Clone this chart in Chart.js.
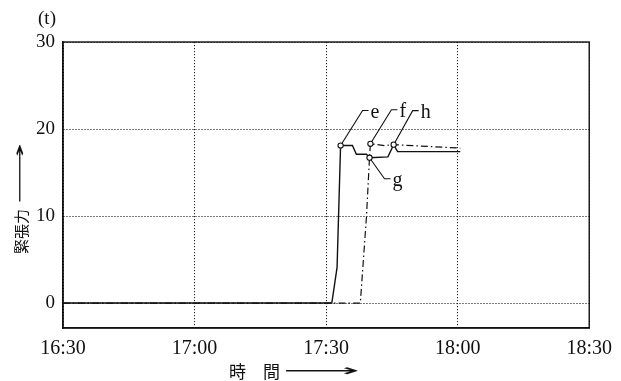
<!DOCTYPE html>
<html><head><meta charset="utf-8">
<script src="https://cdn.jsdelivr.net/npm/chart.js@4.4.1/dist/chart.umd.min.js"></script>
<style>html,body{margin:0;padding:0;background:#fff}#wrap{width:621px;height:381px}</style>
</head><body><div id="wrap"><canvas id="c" width="621" height="381"></canvas></div>
<script>
// x values: minutes after 16:30
const xTickLabels = ['16:30', '17:00', '17:30', '18:00', '18:30'];
const yTickValues = [0, 10, 20, 30];
const solidX = [0, 61.3, 62.5, 63.3, 66.0, 66.9, 69.2, 69.9, 74.1, 75.4, 76.3, 90.6];
const solidY = [0, 0, 4.1, 18.1, 18.1, 17.1, 17.1, 16.7, 16.8, 18.2, 17.4, 17.4];
const dashX = [0, 67.8, 69.2, 69.9, 70.1, 73.3, 75.4, 90.6];
const dashY = [0, 0, 9.9, 16.7, 18.3, 18.1, 18.2, 17.8];
const markerNames = ['e', 'f', 'g', 'h'];
const markerX = [63.3, 70.1, 69.9, 75.4];
const markerY = [18.1, 18.3, 16.7, 18.2];

const yTitle = '緊張力';
const xTitle = '時　間';
const unitLabel = '(t)';

// leader-line styling (pixel offsets from marker)
const leaderStyle = {
  e: {dx: 22, dy: -35, tail: 6, tx: 2, ty: 7},
  f: {dx: 21, dy: -34, tail: 6, tx: 2, ty: 7},
  g: {dx: 15, dy: 21, tail: 6, tx: 2, ty: 7},
  h: {dx: 19, dy: -34, tail: 6, tx: 2, ty: 7}
};

const pts = (xs, ys) => xs.map((x, i) => ({x: x, y: ys[i]}));

const decor = {
  id: 'decor',
  afterDatasetsDraw(chart) {
    const {ctx, chartArea: a, scales: {x, y}} = chart;
    ctx.save();
    ctx.strokeStyle = '#111';
    ctx.lineWidth = 1.4;
    ctx.strokeRect(a.left, a.top, a.right - a.left, a.bottom - a.top);
    markerNames.forEach((n, i) => {
      const px = x.getPixelForValue(markerX[i]);
      const py = y.getPixelForValue(markerY[i]);
      const s = leaderStyle[n];
      ctx.strokeStyle = '#111';
      ctx.lineWidth = 1.1;
      ctx.beginPath();
      ctx.moveTo(px, py);
      ctx.lineTo(px + s.dx, py + s.dy);
      ctx.lineTo(px + s.dx + s.tail, py + s.dy);
      ctx.stroke();
      ctx.beginPath();
      ctx.arc(px, py, 2.6, 0, Math.PI * 2);
      ctx.fillStyle = '#fff';
      ctx.fill();
      ctx.stroke();
      ctx.fillStyle = '#111';
      ctx.font = '20px "Liberation Serif", serif';
      ctx.textAlign = 'left';
      ctx.textBaseline = 'alphabetic';
      ctx.fillText(n, px + s.dx + s.tail + s.tx, py + s.dy + s.ty);
    });
    ctx.restore();
  },
  afterDraw(chart) {
    const {ctx} = chart;
    ctx.save();
    ctx.fillStyle = '#111';
    ctx.font = '19px "Liberation Serif", serif';
    ctx.textAlign = 'center';
    ctx.textBaseline = 'middle';
    ctx.fillText(unitLabel, 47, 19);
    ctx.save();
    ctx.translate(21, 254);
    ctx.rotate(-Math.PI / 2);
    ctx.font = '15px "Noto Sans CJK JP", sans-serif';
    ctx.textAlign = 'left';
    ctx.textBaseline = 'middle';
    ctx.fillText(yTitle, 0, 0);
    const w1 = ctx.measureText(yTitle).width;
    drawArrow(ctx, w1 + 5, 0, 111 - w1 - 5);
    ctx.restore();
    ctx.font = '17px "Noto Sans CJK JP", sans-serif';
    ctx.textAlign = 'left';
    ctx.textBaseline = 'middle';
    ctx.fillText(xTitle, 229, 372);
    const w2 = ctx.measureText(xTitle).width;
    drawArrow(ctx, 229 + w2 + 3, 372, 360 - (229 + w2 + 3));
    ctx.restore();
  }
};

function drawArrow(ctx, x0, y0, len) {
  ctx.save();
  ctx.font = '16px "DejaVu Sans", sans-serif';
  const m = ctx.measureText('⟶').width;
  ctx.translate(x0, y0);
  ctx.scale(len / m, 1);
  ctx.textAlign = 'left';
  ctx.textBaseline = 'middle';
  ctx.fillText('⟶', 0, 0);
  ctx.restore();
}

new Chart(document.getElementById('c'), {
  type: 'line',
  data: {
    datasets: [
      {label: 'solid', data: pts(solidX, solidY), borderColor: '#111', borderWidth: 1.4, pointRadius: 0, tension: 0, fill: false},
      {label: 'dashdot', data: pts(dashX, dashY), borderColor: '#111', borderWidth: 1.2, borderDash: [7, 3, 1.5, 3], pointRadius: 0, tension: 0, fill: false}
    ]
  },
  options: {
    responsive: false,
    animation: false,
    layout: {padding: {left: 0, right: 31, top: 42, bottom: 0}},
    plugins: {legend: {display: false}, tooltip: {enabled: false}},
    scales: {
      x: {
        type: 'linear', min: 0, max: 120,
        afterFit: s => { s.height = 53; },
        afterBuildTicks: s => { s.ticks = xTickLabels.map((_, i) => ({value: i * 30})); },
        ticks: {
          color: '#111', padding: 9, maxRotation: 0, autoSkip: false,
          font: {family: '"Liberation Serif", serif', size: 20},
          callback: (v, i) => xTickLabels[i]
        },
        grid: {color: '#222', lineWidth: 1, drawTicks: false},
        border: {display: true, color: '#111', width: 1.4, dash: [1.2, 1.8]}
      },
      y: {
        type: 'linear', min: -2.87, max: 30,
        afterFit: s => { s.width = 63; },
        afterBuildTicks: s => { s.ticks = yTickValues.map(v => ({value: v})); },
        ticks: {
          color: '#111', padding: 8,
          font: {family: '"Liberation Serif", serif', size: 19},
          callback: v => String(v)
        },
        grid: {color: '#222', lineWidth: 1, drawTicks: false},
        border: {display: true, color: '#111', width: 1.4, dash: [1.2, 1.8]}
      }
    }
  },
  plugins: [decor]
});
</script></body></html>
